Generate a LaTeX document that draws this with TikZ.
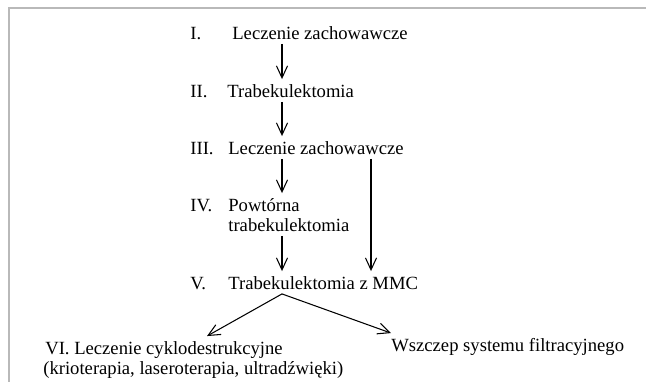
\documentclass[tikz,border=0pt]{standalone}
\usepackage{fontspec}
\setmainfont{Liberation Serif}
\usetikzlibrary{arrows.meta}

\begin{document}
\begin{tikzpicture}[x=0.02cm,y=-0.02cm,
  txt/.style={anchor=base west,inner xsep=0pt,inner ysep=2.5pt,text height=7.5pt,font=\fontsize{10.6}{12}\selectfont},
  arr/.style={-{Straight Barb[length=6.8pt,width=6.3pt]},line width=0.6pt}]
  \useasboundingbox (0,0) rectangle (646,382);
  \draw[gray!55,line width=0.9pt] (9,382) -- (9,8) -- (646,8);
  \node[txt] (n1) at (190,39) {I.};
  \node[txt] (t1) at (232,39) {Leczenie zachowawcze};
  \node[txt] (n2) at (190,97) {II.};
  \node[txt] (t2) at (227,97) {Trabekulektomia};
  \node[txt] (n3) at (190,154) {III.};
  \node[txt] (t3) at (228,154) {Leczenie zachowawcze};
  \node[txt] (n4) at (190,211) {IV.};
  \node[txt] (t4) at (228,211) {Powtórna};
  \node[txt] (t4b) at (228,231) {trabekulektomia};
  \node[txt] (n5) at (190,289) {V.};
  \node[txt] (t5) at (228,289) {Trabekulektomia z MMC};
  \node[txt] (t6) at (45,354) {VI. Leczenie cyklodestrukcyjne};
  \node[txt] (t6b) at (43,374) {(krioterapia, laseroterapia, ultradźwięki)};
  \node[txt] (w) at (391,351) {Wszczep systemu filtracyjnego};
  \coordinate (c) at (282,0);
  \coordinate (d) at (371,0);
  \coordinate (e) at (207,0);
  \draw[arr] (t1.south -| c) -- (t2.north -| c);
  \draw[arr] (t2.south -| c) -- (t3.north -| c);
  \draw[arr] (t3.south -| c) -- (t4.north -| c);
  \draw[arr] (t4b.south -| c) -- (t5.north -| c);
  \draw[arr] (t3.south -| d) -- (t5.north -| d);
  \draw[arr] (t5.south -| c) -- (t6.north -| e);
  \draw[arr] (t5.south -| c) -- (w.north west);
\end{tikzpicture}
\end{document}
